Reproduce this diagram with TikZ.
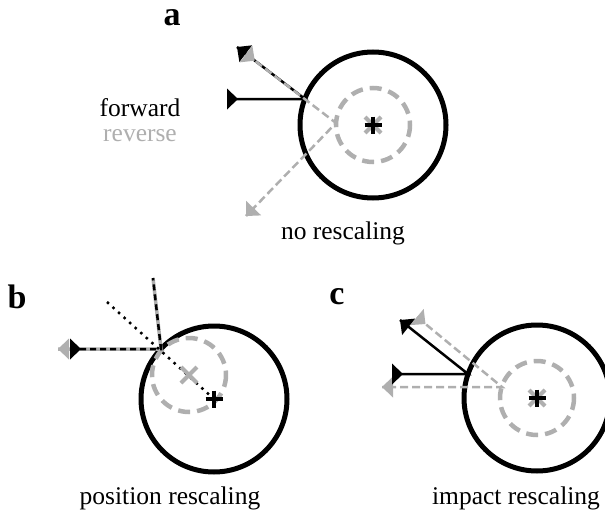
\documentclass[tikz,border=0pt]{standalone}
\usepackage{fontspec}
\setmainfont{Liberation Serif}
\usetikzlibrary{calc}
\definecolor{lg}{RGB}{175,175,175}
% arrowhead: apex at #2, pointing away from #3
\newcommand\myhead[3]{\fill[#1] (#2) -- ($(#2)!11pt!(#3)!10.5pt!90:(#3)$) -- ($(#2)!11pt!(#3)!10.5pt!-90:(#3)$) -- cycle;}
% start marker: base at #2, pointing toward #3
\newcommand\mytail[3]{\fill[#1] ($(#2)!10.5pt!90:(#3)$) -- ($(#2)!11pt!(#3)$) -- ($(#2)!10.5pt!-90:(#3)$) -- cycle;}
% centre marks
\newcommand\plusmark[1]{\draw[black,line width=3.5pt] ($(#1)+(-8.5,0)$) -- ($(#1)+(8.5,0)$) ($(#1)+(0,-8.5)$) -- ($(#1)+(0,8.5)$);}
\newcommand\crossmark[1]{\draw[lg,line width=4pt] ($(#1)+(-8,-8)$) -- ($(#1)+(8,8)$) ($(#1)+(-8,8)$) -- ($(#1)+(8,-8)$);}
\begin{document}
\begin{tikzpicture}[x=1pt,y=-1pt,
  outer/.style={line width=5pt},
  inner/.style={lg,line width=4.5pt,dash pattern=on 12pt off 7pt},
  fwd/.style={black,line width=2.5pt},
  rev/.style={lg,line width=2.5pt,dash pattern=on 8pt off 4pt},
  revbase/.style={lg,line width=3.5pt},
  fwddash/.style={black,line width=2.5pt,dash pattern=on 6pt off 4pt},
  dotline/.style={black,line width=2.5pt,dash pattern=on 2.5pt off 5pt},
  lbl/.style={font=\bfseries\fontsize{34}{34}\selectfont,inner sep=0pt},
  captxt/.style={font=\fontsize{25.5}{25.5}\selectfont,inner sep=0pt,anchor=base}]
\useasboundingbox (0,0) rectangle (605,527);
% ---------------- panel a ----------------
\coordinate (oa) at (373,125);
\coordinate (ca) at (305,99);
\coordinate (fa) at (227,99);
\coordinate (ea) at (237,47);
\coordinate (sa) at (246,54);
\coordinate (ia) at (336,123);
\coordinate (ga) at (246,216);
\draw[outer] (oa) circle[radius=73];
\draw[inner] (oa) circle[radius=37];
\draw[fwd] (fa) -- (ca) -- (ea);
\draw[rev] (sa) -- (ia) -- (ga);
\mytail{black}{fa}{ca}
\myhead{black}{ea}{ca}
\mytail{lg}{sa}{ca}
\myhead{lg}{ga}{ia}
\crossmark{oa}
\plusmark{oa}
\node[lbl] (la) at (172,18) {a};
\node[captxt] (tf) at (140,116) {forward};
\node[captxt,text=lg] (tr) at (140,141) {reverse};
\node[captxt] (tna) at (343,239) {no rescaling};
% ---------------- panel b ----------------
\coordinate (ob) at (214,399);
\coordinate (ib) at (189,375);
\coordinate (cb) at (161,349);
\coordinate (fb) at (70,349);
\coordinate (gb) at (58,349);
\coordinate (tb) at (153,278);
\coordinate (db) at (107,302);
\draw[outer] (ob) circle[radius=73];
\draw[inner] (ib) circle[radius=37];
\draw[revbase] (gb) -- (cb) -- (tb);
\draw[fwddash] (fb) -- (cb) -- (tb);
\draw[dotline] (db) -- (ob);
\myhead{lg}{gb}{cb}
\mytail{black}{fb}{cb}
\crossmark{ib}
\plusmark{ob}
\node[lbl] (lb) at (17,297) {b};
\node[captxt] (tnb) at (170,504) {position rescaling};
% ---------------- panel c ----------------
\coordinate (oc) at (537,398);
\coordinate (cc) at (468,374);
\coordinate (fc) at (392,374);
\coordinate (ec) at (400,320);
\coordinate (sc) at (417,317);
\coordinate (ic) at (502,387);
\coordinate (gc) at (382,387);
\draw[outer] (oc) circle[radius=73];
\draw[inner] (oc) circle[radius=37];
\draw[rev] (sc) -- (ic) -- (gc);
\mytail{lg}{sc}{ic}
\myhead{lg}{gc}{ic}
\draw[fwd] (fc) -- (cc) -- (ec);
\mytail{black}{fc}{cc}
\myhead{black}{ec}{cc}
\crossmark{oc}
\plusmark{oc}
\node[lbl] (lc) at (337,297) {c};
\node[captxt] (tnc) at (516,504) {impact rescaling};
\end{tikzpicture}
\end{document}
